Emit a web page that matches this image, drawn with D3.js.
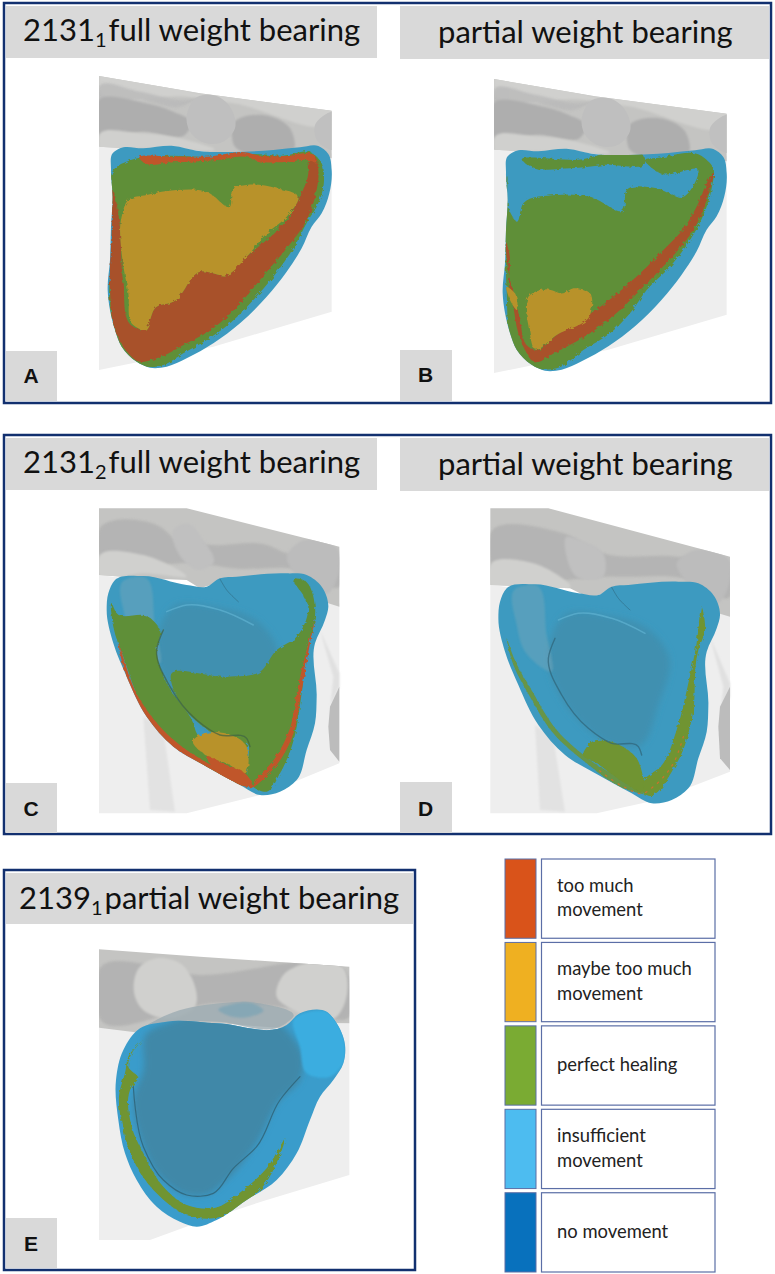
<!DOCTYPE html>
<html>
<head>
<meta charset="utf-8">
<script src="https://cdn.jsdelivr.net/npm/d3@7"></script>
<style>
    body { margin: 0; background: #fff; }
    svg { display: block; font-family: Lato, "Noto Sans", sans-serif; }
</style>
</head>
<body>
<div id="demo"></div>
<script>
// legend
const legendLabels = [["too much", "movement"], ["maybe too much", "movement"], ["perfect healing"], ["insufficient", "movement"], ["no movement"]];
const legendColors = ["#d9531a", "#efb021", "#7aab33", "#4dbcf0", "#0871bd"];

// panel titles and letters
const letters = ["A", "B", "C", "D", "E"];
const titleMain = ["2131", "", "2131", "", "2139"];
const titleSub = ["1", "", "2", "", "1"];
const titleRest = ["full weight bearing", "partial weight bearing", "full weight bearing", "partial weight bearing", "partial weight bearing"];

// outlines, in units of 1/3 px relative to each panel's crop
const boneAB = [[297,228],[600,280],[995,332],[995,475],[900,462],[640,458],[560,447],[420,447],[297,440]];
const boneAB_top = [[297,228],[600,280],[995,332],[995,345],[700,310],[560,290],[297,262]];
const boneAB_dark = [[297,300],[430,308],[520,335],[575,370],[560,400],[430,395],[297,405]];
const boneAB_dark2 = [[700,370],[790,345],[870,385],[885,435],[700,432]];
const boneAB_dark3 = [[297,262],[420,275],[560,300],[590,295],[540,320],[430,300],[297,295]];
const boneAB_knob = [[590,292],[640,285],[690,320],[705,385],[670,425],[620,430],[570,395],[560,365]];
const boneAB_knob2 = [[945,375],[995,335],[995,450],[950,420]];
const boneAB_light = [[297,408],[420,400],[560,420],[640,445],[420,445],[297,438]];
const paneAB = [[297,440],[560,445],[995,460],[995,935],[640,1040],[297,1110]];
const shellAB = [[338,460],[360,445],[430,445],[520,438],[590,452],[700,456],[820,450],[900,442],[955,438],[985,462],[995,510],[988,580],[965,640],[935,680],[905,745],[860,815],[800,890],[720,970],[640,1030],[560,1075],[500,1100],[450,1103],[410,1085],[365,1040],[345,990],[330,930],[323,870],[330,780],[333,680],[338,590],[333,510]];

const greenA = [[345,505],[400,478],[500,468],[640,472],[760,462],[850,467],[935,458],[965,490],[972,540],[950,620],[925,660],[880,745],[820,830],[760,900],[690,970],[620,1020],[550,1060],[490,1095],[440,1100],[400,1080],[360,1040],[340,980],[328,900],[335,770],[340,640]];
const redA = [[340,570],[335,700],[330,870],[345,990],[370,1040],[420,1085],[470,1075],[560,1030],[640,985],[720,910],[800,815],[860,745],[920,660],[945,590],[955,510],[945,470],[925,485],[925,520],[900,590],[860,660],[740,770],[680,825],[600,815],[520,905],[470,920],[430,990],[400,980],[370,850],[360,690],[355,640]];
const redTopA = [[420,478],[520,470],[620,470],[745,458],[770,465],[860,468],[945,468],[950,490],[930,482],[850,487],[770,482],[745,472],[650,480],[520,487],[430,487]];
const yellowA = [[365,650],[385,600],[440,585],[530,570],[620,575],[690,620],[700,565],[740,555],[830,565],[895,590],[860,650],[800,700],[740,770],[680,825],[600,815],[520,905],[470,920],[430,990],[400,975],[385,880],[365,760]];

const greenB = [[352,530],[362,640],[380,665],[400,610],[500,585],[600,590],[700,630],[710,570],[800,565],[880,590],[925,510],[810,520],[765,478],[800,474],[935,468],[970,505],[966,560],[938,650],[900,720],[840,800],[770,870],[720,940],[660,1000],[580,1050],[500,1105],[440,1105],[400,1080],[365,1040],[355,980],[350,870],[345,740]];
const greenTopB = [[400,485],[560,480],[760,468],[765,482],[640,495],[540,505],[420,498]];
const redB = [[350,730],[358,760],[358,860],[370,920],[385,1000],[405,1050],[430,1085],[500,1055],[600,1000],[690,930],[770,850],[860,755],[910,690],[945,615],[968,520],[955,540],[925,610],[885,680],[820,750],[745,825],[670,890],[595,945],[500,1005],[435,1050],[415,1040],[390,960],[375,890],[360,840]];
const yellowB = [[420,885],[470,868],[520,880],[550,865],[600,880],[600,945],[500,1005],[435,1048],[418,990]];
const yellowB2 = [[350,860],[375,880],[380,930],[360,900]];

const boneC = [[297,235],[560,235],[1018,350],[1018,530],[985,520],[900,445],[700,445],[600,475],[560,450],[430,445],[297,435]];
const boneC_dark = [[297,300],[480,290],[530,330],[640,345],[800,345],[860,370],[1018,380],[1018,470],[900,420],[700,415],[600,400],[297,375]];
const boneC_light = [[297,380],[430,375],[560,440],[430,430],[297,435]];
const boneC_seg = [[520,300],[560,280],[610,330],[640,400],[600,420],[530,360]];
const boneC_seg2 = [[860,380],[900,335],[1018,365],[1018,420],[985,490],[880,425]];
const paneC = [[297,435],[1018,520],[1018,1000],[800,1090],[560,1150],[297,1150]];
const legC = [[430,860],[490,900],[525,1145],[450,1140]];
const legC2 = [[960,600],[1018,730],[1018,770],[990,830],[985,890],[1000,740]];
const knobC = [[1018,770],[990,830],[985,890],[990,960],[1018,995]];
const shellC = [[345,450],[430,438],[560,465],[620,470],[660,445],[710,440],[860,430],[920,435],[965,470],[985,530],[975,570],[945,640],[950,800],[945,880],[920,960],[890,1050],[840,1085],[780,1095],[720,1065],[620,1010],[520,950],[440,860],[380,740],[340,640],[320,540],[325,490]];
const lobeC = [[475,610],[520,530],[640,530],[780,580],[830,650],[800,800],[740,925],[650,915],[585,870],[510,780],[470,670]];
const stripeC = [[370,452],[430,440],[465,590],[480,700],[400,640],[375,560]];
const creaseC = [[490,600],[470,660],[510,770],[590,870],[660,915],[740,925],[750,950]];
const notchC = [[660,447],[680,480],[715,515]];
const highlightC = [[500,545],[560,525],[660,540],[760,585]];
const greenC1 = [[335,520],[350,550],[445,560],[480,600],[470,660],[500,760],[580,880],[590,910],[740,935],[735,1000],[750,1060],[600,1000],[500,920],[430,830],[370,680],[340,590]];
const greenC2 = [[512,738],[680,740],[780,725],[830,660],[890,620],[925,530],[885,445],[910,450],[945,530],[940,590],[925,640],[905,790],[875,950],[840,1030],[800,1085],[760,1070],[745,1040],[740,935],[650,915],[585,870],[530,800]];
const redC1 = [[760,1068],[830,1005],[875,925],[902,800],[930,640],[945,570],[925,640],[890,790],[870,895],[825,985],[770,1050]];
const redC2 = [[355,635],[415,800],[515,925],[615,995],[750,1055],[760,1068],[700,1060],[615,1012],[495,930],[405,815]];
const yellowC = [[600,915],[740,950],[735,1030],[680,1000],[625,980],[580,930]];
const redC3 = [[620,980],[680,1005],[735,1030],[755,1060],[720,1060],[640,1015]];

const boneD = [[301,235],[475,235],[1020,380],[1020,560],[985,550],[880,470],[680,475],[600,505],[540,475],[430,470],[301,465]];
const boneD_dark = [[301,310],[520,310],[640,370],[860,380],[1020,410],[1020,500],[880,445],[680,440],[301,400]];
const boneD_light = [[301,405],[430,400],[540,465],[301,465]];
const boneD_seg = [[530,320],[570,330],[640,370],[640,440],[560,440],[530,380]];
const boneD_seg2 = [[860,400],[900,365],[1020,395],[1020,450],[985,520],[880,445]];
const paneD = [[301,465],[1020,550],[1020,1025],[800,1110],[620,1150],[301,1150]];
const legD = [[435,885],[490,925],[525,1145],[450,1140]];
const legD2 = [[960,620],[1020,760],[1020,800],[990,860],[985,920],[1000,770]];
const knobD = [[1020,770],[990,830],[985,890],[990,985],[1020,1020]];
const greenD1 = [[935,530],[945,600],[925,660],[905,870],[860,1000],[770,1095],[750,1075],[820,1000],[860,900],[895,760],[920,640]];
const greenD2 = [[350,625],[370,680],[430,790],[500,900],[600,990],[770,1095],[700,1075],[590,1000],[490,910],[420,800],[365,690]];
const greenD3 = [[600,940],[740,985],[755,1085],[690,1050],[620,1000],[580,975]];
const dotsD = [[880,920],[850,1000],[790,1070],[760,1090],[700,1070],[620,1015]];

const boneE = [[297,268],[600,290],[1048,320],[1048,490],[1010,490],[880,480],[850,505],[660,490],[500,490],[430,520],[297,503]];
const boneE_dark = [[297,330],[600,345],[1048,355],[1048,470],[880,445],[650,430],[297,470]];
const boneE_knob = [[420,320],[470,295],[540,310],[585,440],[500,475],[420,440],[405,410]];
const boneE_knob2 = [[850,345],[900,315],[1030,325],[1030,440],[1010,470],[880,450],[830,410]];
const paneE = [[297,503],[1048,490],[1048,945],[800,1020],[600,1085],[450,1140],[297,1140]];
const capE = [[420,510],[500,465],[660,430],[780,430],[880,470],[850,495],[650,485],[500,487]];
const capE2 = [[655,450],[700,432],[770,435],[790,450],[750,470],[680,465]];
const shellE = [[420,505],[500,485],[650,490],[860,495],[900,460],[980,455],[1010,490],[1035,555],[1030,610],[1000,660],[960,710],[930,780],[890,880],[830,960],[740,1020],[650,1080],[590,1100],[540,1085],[470,1040],[410,960],[375,880],[355,780],[348,660],[370,570]];
const lobeE = [[440,520],[500,490],[850,500],[910,600],[900,660],[840,720],[770,850],[680,960],[620,1005],[560,1005],[490,960],[420,830],[400,720],[430,630]];
const bulgeE = [[880,480],[980,455],[1035,560],[1030,610],[990,650],[920,640],[900,560]];
const greenE = [[430,540],[385,590],[375,640],[358,700],[370,810],[400,900],[470,1000],[560,1065],[640,1075],[740,1025],[800,965],[855,835],[800,925],[730,990],[640,1045],[560,1035],[490,980],[430,880],[395,800],[395,680],[415,655],[385,620],[395,580]];
const creaseE = [[400,680],[430,860],[490,960],[560,1005],[640,1000],[700,925],[770,860],[840,720],[900,650]];

const c = {
    frame: "#12306f", head: "#d9d9d9", bone: "#c4c4c2", boneDark: "#aeaeae", boneLight: "#d0d0ce", pane: "#eeeeee",
    shell: "#3d9ac0", lobe: "#3f90b0", lobeE: "#3f88a8", bright: "#3bade0", green: "#5f8f38", olive: "#6f9430",
    red: "#a8512a", redHot: "#c0562a", yellow: "#b8922c", crease: "#2f6478"
};

let svg = d3.select("#demo").append("svg").attr("width", 775).attr("height", 1274);
let defs = svg.append("defs");

// rough edge for the colour regions, the mesh cells in the source are jagged
let rough = defs.append("filter").attr("id", "rough").attr("x", "-5%").attr("y", "-5%").attr("width", "110%").attr("height", "110%");
rough.append("feTurbulence").attr("type", "fractalNoise").attr("baseFrequency", 0.28).attr("numOctaves", 2).attr("seed", 4).attr("result", "n");
rough.append("feDisplacementMap").attr("in", "SourceGraphic").attr("in2", "n").attr("scale", 4).attr("result", "d");
rough.append("feGaussianBlur").attr("in", "d").attr("stdDeviation", 0.35);
let soft = defs.append("filter").attr("id", "soft").attr("x", "-10%").attr("y", "-10%").attr("width", "120%").attr("height", "120%");
soft.append("feGaussianBlur").attr("stdDeviation", 1.1);
let softer = defs.append("filter").attr("id", "softer").attr("x", "-10%").attr("y", "-10%").attr("width", "120%").attr("height", "120%");
softer.append("feGaussianBlur").attr("stdDeviation", 3);

const at = (x0, y0) => ({
    x: d3.scaleLinear().domain([0, 3]).range([x0, x0 + 1]),
    y: d3.scaleLinear().domain([0, 3]).range([y0, y0 + 1])
});
let clipCount = 0;
const outline = (s, pts, curve) => d3.line().x(d => s.x(d[0])).y(d => s.y(d[1])).curve(curve)(pts);
const smooth = d3.curveCatmullRomClosed.alpha(1);
const fill = (g, s, pts, color, opts = {}) => g.append("path")
    .attr("d", outline(s, pts, opts.straight ? d3.curveLinearClosed : smooth))
    .attr("fill", color)
    .attr("opacity", opts.op === undefined ? 1 : opts.op)
    .attr("filter", opts.filter ? "url(#" + opts.filter + ")" : null);
const stroke = (g, s, pts, color, w, op = 1, dash = null) => g.append("path")
    .attr("d", outline(s, pts, d3.curveCatmullRom.alpha(1)))
    .attr("fill", "none").attr("stroke", color).attr("stroke-width", w).attr("opacity", op)
    .attr("stroke-dasharray", dash).attr("stroke-linecap", "round");
const clipped = (g, s, pts, straight) => {
    let id = "clip" + (clipCount++);
    defs.append("clipPath").attr("id", id).append("path").attr("d", outline(s, pts, straight ? d3.curveLinearClosed : smooth));
    return g.append("g").attr("clip-path", "url(#" + id + ")");
};

// frames
svg.selectAll("rect.frame").data([[4, 3, 767, 400], [4, 435, 767, 399], [4, 870, 411, 400]]).enter().append("rect")
    .attr("class", "frame").attr("x", d => d[0]).attr("y", d => d[1]).attr("width", d => d[2]).attr("height", d => d[3])
    .attr("fill", "#fff").attr("stroke", c.frame).attr("stroke-width", 2.5);

// ---- panel A and B share the same bone and shell
const pA = at(0, 0), pB = at(395, 3);
[pA, pB].forEach(s => {
    let b = svg.append("g");
    fill(b, s, paneAB, c.pane, { straight: true });
    fill(b, s, boneAB, c.bone, { straight: true });
    let bone = clipped(b, s, boneAB, true);
    fill(bone, s, boneAB_top, c.boneLight, { filter: "soft" });
    fill(bone, s, boneAB_dark3, "#b9b9b9", { filter: "soft", op: 0.8 });
    fill(bone, s, boneAB_dark, c.boneDark, { filter: "soft" });
    fill(bone, s, boneAB_dark2, c.boneDark, { filter: "soft" });
    fill(bone, s, boneAB_knob, "#bfbfbf");
    fill(bone, s, boneAB_knob2, "#c0c0c0");
    fill(bone, s, boneAB_light, c.boneLight, { filter: "soft" });
    fill(b, s, shellAB, c.shell);
});
let gA = clipped(svg, pA, shellAB);
fill(gA, pA, greenA, c.green, { filter: "rough" });
fill(gA, pA, redA, c.red, { filter: "rough" });
fill(gA, pA, redTopA, c.redHot, { filter: "rough" });
fill(gA, pA, yellowA, c.yellow, { filter: "rough" });

const pB0 = at(390, 0);
let gB = clipped(svg, pB, shellAB);
fill(gB, pB0, greenB, c.green, { filter: "rough" });
fill(gB, pB0, greenTopB, c.green, { filter: "rough" });
fill(gB, pB0, redB, c.red, { filter: "rough" });
fill(gB, pB0, yellowB, c.yellow, { filter: "rough" });
fill(gB, pB0, yellowB2, c.yellow, { filter: "rough" });

// ---- panel C
const pC = at(0, 430);
let bC = svg.append("g");
fill(bC, pC, paneC, c.pane, { straight: true });
fill(bC, pC, legC, "#e2e2e2", { straight: true, filter: "soft" });
fill(bC, pC, legC2, "#e0e0e0", { straight: true, filter: "soft" });
fill(bC, pC, knobC, "#bcbcbc", { straight: true });
fill(bC, pC, boneC, c.bone, { straight: true });
let boneCg = clipped(bC, pC, boneC, true);
fill(boneCg, pC, boneC_dark, c.boneDark, { filter: "soft", op: 0.7 });
fill(boneCg, pC, boneC_seg, "#c0c0c0", { filter: "soft" });
fill(boneCg, pC, boneC_seg2, "#bcbcbc", { filter: "soft" });
fill(boneCg, pC, boneC_light, c.boneLight, { filter: "soft" });
fill(bC, pC, shellC, c.shell);
let gC = clipped(svg, pC, shellC);
fill(gC, pC, lobeC, c.lobe, { filter: "softer" });
fill(gC, pC, stripeC, "#7fa9b8", { filter: "soft", op: 0.4 });
stroke(gC, pC, highlightC, "#5fb2d2", 1.5, 0.7);
stroke(gC, pC, notchC, c.crease, 1, 0.5);
fill(gC, pC, greenC1, c.green, { filter: "rough" });
fill(gC, pC, greenC2, c.green, { filter: "rough" });
fill(gC, pC, redC1, c.redHot, { filter: "rough" });
fill(gC, pC, redC2, c.redHot, { filter: "rough" });
fill(gC, pC, yellowC, c.yellow, { filter: "rough" });
fill(gC, pC, redC3, c.redHot, { filter: "rough" });
stroke(gC, pC, creaseC, "#3e6244", 1.4, 0.7);

// ---- panel D, same shell as C moved down a little
const pD0 = at(390, 430), pD = at(391.7, 438.3);
let bD = svg.append("g");
fill(bD, pD0, paneD, c.pane, { straight: true });
fill(bD, pD0, legD, "#e2e2e2", { straight: true, filter: "soft" });
fill(bD, pD0, legD2, "#e0e0e0", { straight: true, filter: "soft" });
fill(bD, pD0, knobD, "#bcbcbc", { straight: true });
fill(bD, pD0, boneD, c.bone, { straight: true });
let boneDg = clipped(bD, pD0, boneD, true);
fill(boneDg, pD0, boneD_dark, c.boneDark, { filter: "soft", op: 0.7 });
fill(boneDg, pD0, boneD_seg, "#c0c0c0", { filter: "soft" });
fill(boneDg, pD0, boneD_seg2, "#bcbcbc", { filter: "soft" });
fill(boneDg, pD0, boneD_light, c.boneLight, { filter: "soft" });
fill(bD, pD, shellC, c.shell);
let gD = clipped(svg, pD, shellC);
fill(gD, pD, lobeC, c.lobe, { filter: "softer" });
fill(gD, pD, stripeC, "#7fa9b8", { filter: "soft", op: 0.4 });
stroke(gD, pD, highlightC, "#5fb2d2", 1.5, 0.7);
stroke(gD, pD, notchC, c.crease, 1, 0.5);
fill(gD, pD0, greenD1, c.olive, { filter: "rough" });
fill(gD, pD0, greenD2, c.olive, { filter: "rough", op: 0.85 });
fill(gD, pD0, greenD3, c.olive, { filter: "rough" });
stroke(gD, pD0, dotsD, "#d0702a", 1.3, 0.9, "1.5 6");
stroke(gD, pD, creaseC, c.crease, 1.4, 0.7);

// ---- panel E
const pE = at(0, 860);
let bE = svg.append("g");
fill(bE, pE, paneE, c.pane, { straight: true });
fill(bE, pE, boneE, c.bone, { straight: true });
let boneEg = clipped(bE, pE, boneE, true);
fill(boneEg, pE, boneE_dark, c.boneDark, { filter: "soft", op: 0.75 });
fill(boneEg, pE, boneE_knob, c.boneLight, { filter: "soft" });
fill(boneEg, pE, boneE_knob2, c.boneLight, { filter: "soft" });
fill(bE, pE, capE, "#9aaab0", { op: 0.75 });
fill(bE, pE, capE2, "#7fa5b5", { filter: "soft", op: 0.8 });
fill(bE, pE, shellE, "#3a9ccb");
let gE = clipped(svg, pE, shellE);
fill(gE, pE, lobeE, c.lobeE, { filter: "softer" });
fill(gE, pE, bulgeE, c.bright, { filter: "soft" });
fill(gE, pE, greenE, c.olive, { filter: "rough" });
stroke(gE, pE, creaseE, c.crease, 1.2, 0.85);

// ---- title bars and letters
const heads = [[6, 6, 371, 52, 23, 41], [400, 6, 369, 53, 438, 43], [6, 438, 371, 52, 23, 473], [400, 438, 369, 53, 438, 475], [6, 873, 407, 51, 19, 909]];
const tags = [[6, 351, 51, 50, 383], [400, 350, 52, 51, 382], [6, 783, 51, 50, 816], [400, 782, 52, 51, 816], [6, 1218, 51, 50, 1251]];
heads.forEach((h, i) => {
    svg.append("rect").attr("x", h[0]).attr("y", h[1]).attr("width", h[2]).attr("height", h[3]).attr("fill", c.head);
    let t = svg.append("text").attr("x", h[4]).attr("y", h[5]).attr("font-size", 31).attr("fill", "#111");
    if (titleMain[i]) {
        t.append("tspan").text(titleMain[i]);
        t.append("tspan").attr("font-size", 20).attr("dy", 6).text(titleSub[i]);
        t.append("tspan").attr("dy", -6).attr("dx", 2).text(titleRest[i]);
    } else {
        t.text(titleRest[i]);
    }
    let g = tags[i];
    svg.append("rect").attr("x", g[0]).attr("y", g[1]).attr("width", g[2]).attr("height", g[3]).attr("fill", c.head);
    svg.append("text").attr("x", g[0] + g[2] / 2 - 0.5).attr("y", g[4]).attr("text-anchor", "middle")
        .attr("font-family", "'Liberation Sans', sans-serif").attr("font-weight", "bold").attr("font-size", 21).attr("fill", "#111").text(letters[i]);
});

// ---- legend
let y = d3.scaleBand().domain(d3.range(legendLabels.length)).range([859, 1272]).paddingInner(0.05);
let row = svg.selectAll("g.row").data(legendLabels).enter().append("g").attr("class", "row");
row.append("rect").attr("x", 505).attr("y", (d, i) => y(i)).attr("width", 31).attr("height", y.bandwidth())
    .attr("fill", (d, i) => legendColors[i]).attr("stroke", "#5b6ea6").attr("stroke-width", 1);
row.append("rect").attr("x", 541.5).attr("y", (d, i) => y(i)).attr("width", 173.5).attr("height", y.bandwidth())
    .attr("fill", "#fff").attr("stroke", "#5b6ea6").attr("stroke-width", 1.2);
row.each(function (d, i) {
    let mid = y(i) + y.bandwidth() / 2;
    d.forEach((line, k) => {
        d3.select(this).append("text").attr("x", 557)
            .attr("y", mid + 5.5 + (k - (d.length - 1) / 2) * 24.5)
            .attr("font-size", 18.4).attr("fill", "#222").text(line);
    });
});
</script>
</body>
</html>
